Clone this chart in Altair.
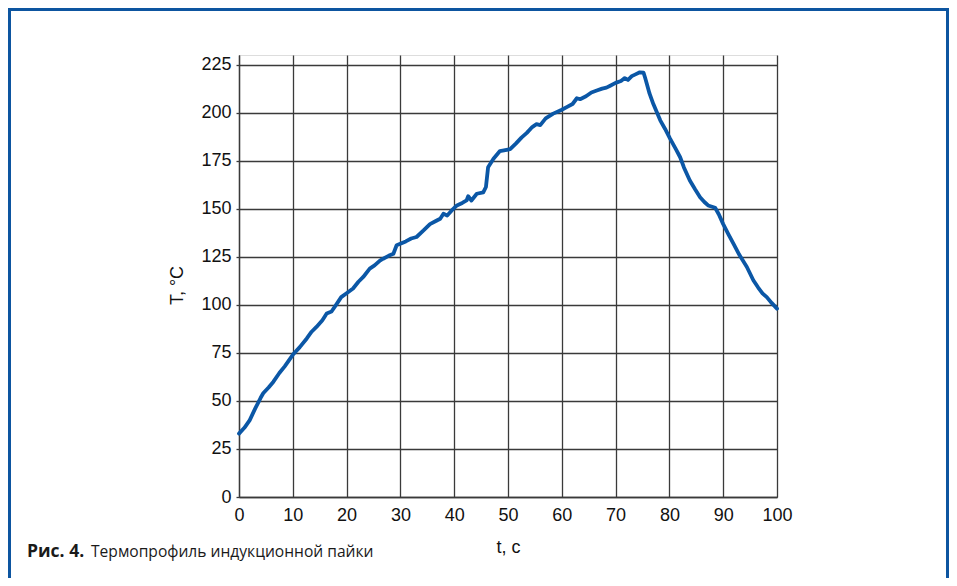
import altair as alt
import pandas as pd

# Time, s
t_vals = [0, 1, 2, 3, 4, 4.5, 5.5, 6.4, 7.5, 8.5, 10, 11.3, 12.6, 13.5, 14.4, 15.5, 16.3, 17.2,
          18.2, 19, 20, 21.2, 22.2, 23.1, 24.3, 25.2, 26.2, 26.8, 27.8, 28.7, 29.3, 30.2, 31, 32,
          33, 34.3, 35.5, 36.5, 37.4, 38, 38.7, 39.5, 40.5, 41.5, 42.3, 42.6, 43.2, 44.2, 45.4,
          45.9, 46.3, 47.3, 48.5, 49.5, 50.4, 51.5, 52.5, 53.5, 54.5, 55.3, 56, 57, 58.4, 59.2,
          60, 61, 62, 62.8, 63.4, 64.5, 65.5, 66.5, 67.5, 68.3, 69, 70, 71, 71.7, 72.3, 73, 73.6,
          74.5, 75.2, 75.5, 75.8, 76.3, 77, 78.3, 79.2, 80.1, 81.2, 82, 82.7, 83.8, 84.8, 85.7,
          86.5, 87.2, 88.5, 89.2, 90, 91, 91.9, 93, 94.4, 95.6, 96.5, 97.3, 98.1, 99, 100]
# Temperature, °C
T_vals = [33, 36, 40, 46, 51.5, 54, 57, 60, 64.5, 68, 74, 78, 82.5, 86, 88.5, 92, 95.5, 96.5,
          100.6, 104, 106, 108.5, 112, 114.5, 118.8, 120.5, 123, 124, 125.5, 126.6, 131, 132, 133,
          134.5, 135.3, 138.7, 142, 143.5, 144.8, 147.4, 146.5, 149, 151.7, 153, 154.3, 156.5,
          154.3, 157.8, 158.5, 161.3, 171.6, 176, 180, 180.5, 181, 184, 187, 189.5, 192.5, 194,
          193.5, 197, 199.5, 200.5, 201.5, 203, 204.5, 207.5, 207, 208.5, 210.5, 211.5, 212.5,
          213, 214, 215.5, 216.5, 218, 217, 219, 219.8, 221, 220.8, 218, 215, 210, 204.6, 196,
          191.5, 186.6, 181, 176.8, 171.5, 164.7, 160, 156, 153.5, 151.7, 150.5, 147, 142, 136.5,
          131.8, 126, 119.7, 112.8, 109, 106, 104, 101, 98]

x_ticks = [0, 10, 20, 30, 40, 50, 60, 70, 80, 90, 100]
y_ticks = [0, 25, 50, 75, 100, 125, 150, 175, 200, 225]

caption_bold = ["Рис. 4."]
caption_text = ["Термопрофиль индукционной пайки"]

df = pd.DataFrame({"t": t_vals, "T": T_vals})

FONT = "Liberation Sans"
GRID = "#3a3a3a"
BLUE = "#0b57a6"

x_enc = alt.X("t:Q",
              scale=alt.Scale(domain=[0, 100], nice=False, zero=False),
              axis=alt.Axis(values=x_ticks, title="t, c", grid=True, gridColor=GRID,
                            gridWidth=1.3, gridOpacity=1, domainColor=GRID, domainWidth=1.3,
                            ticks=False, labelPadding=9, labelFont=FONT, labelFontSize=18,
                            labelColor="#111", titleFont=FONT, titleFontSize=18,
                            titleFontWeight="normal", titleColor="#111",
                            titleX=269, titleY=55, titleBaseline="alphabetic",
                            labelFlush=False))
y_enc = alt.Y("T:Q",
              scale=alt.Scale(domain=[0, 230], nice=False, zero=True),
              axis=alt.Axis(values=y_ticks, title="T, °C", grid=True, gridColor=GRID,
                            gridWidth=1.3, gridOpacity=1, domainColor=GRID, domainWidth=1.3,
                            tickSize=3, tickColor=GRID, tickWidth=1.3, labelPadding=5,
                            labelFont=FONT, labelFontSize=18, labelColor="#111",
                            titleFont=FONT, titleFontSize=18, titleFontWeight="normal",
                            titleColor="#111", titleAngle=270, titleX=-57, titleY=230,
                            titleAlign="center", titleBaseline="alphabetic",
                            labelFlush=False))

line = alt.Chart(df).mark_line(color=BLUE, strokeWidth=3.8, strokeJoin="round",
                               strokeCap="round").encode(x=x_enc, y=y_enc)

frame = alt.Chart(pd.DataFrame({"a": [0]})).mark_rect(
    fill=None, stroke="#0d55a0", strokeWidth=3
).encode(x=alt.value(-229.5), x2=alt.value(708.5), y=alt.value(-45.5), y2=alt.value(600))

cap1 = alt.Chart(pd.DataFrame({"s": caption_bold})).mark_text(
    font="Open Sans", fontSize=17.5, fontWeight="bold", align="left", baseline="alphabetic",
    color="#1a1a1a"
).encode(text="s:N", x=alt.value(-212), y=alt.value(502))

cap2 = alt.Chart(pd.DataFrame({"s": caption_text})).mark_text(
    font="Open Sans", fontSize=15.6, align="left", baseline="alphabetic", color="#1a1a1a"
).encode(text="s:N", x=alt.value(-148), y=alt.value(502))

chart = alt.layer(line, frame, cap1, cap2).properties(
    width=538, height=442,
    autosize=alt.AutoSizeParams(type="none"),
    padding={"left": 231, "top": 47, "right": 172, "bottom": 81},
).configure_view(stroke=None).configure(background="white")

chart.save("out.html", embed_options={"renderer": "svg", "actions": False})
